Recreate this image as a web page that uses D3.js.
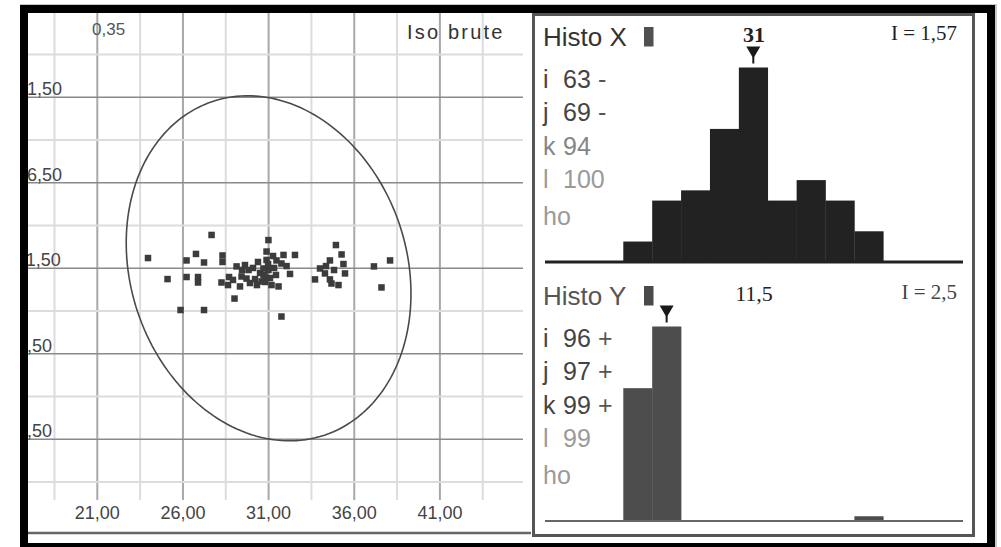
<!DOCTYPE html>
<html>
<head>
<meta charset="utf-8">
<script src="https://cdn.jsdelivr.net/npm/d3@7"></script>
<style>
body{margin:0;background:#fff;}
svg{display:block;}
text{font-family:"Liberation Sans",Arial,sans-serif;}
.serif{font-family:"Liberation Serif","Times New Roman",serif;}
</style>
</head>
<body>
<script>
//everything in a self-executing function to keep it local
(function(){

//scatter values (Iso brute)
var pointsX = [23.96,25.10,25.86,26.21,26.21,26.76,26.88,26.88,27.23,27.23,
	27.67,28.31,28.31,28.25,28.63,28.92,29.01,29.13,29.33,29.42,
	29.62,29.71,29.83,30.09,30.21,30.50,30.59,30.79,30.88,30.99,
	30.88,30.70,30.99,30.70,31.08,30.79,31.17,31.58,31.87,32.54,
	31.46,31.75,32.25,31.75,34.93,35.26,34.58,35.37,34.00,34.29,
	35.46,33.71,34.58,34.67,35.08,37.15,38.09,37.59,30.38,31.32,
	31.43,30.32,29.91,30.97,31.26,29.45,28.69,32.05,34.35,34.82];
var pointsY = [12.10,10.87,9.06,11.96,10.99,12.34,10.99,10.67,11.84,9.06,
	13.45,12.25,11.87,10.67,10.52,10.82,9.73,11.61,10.44,11.02,
	11.69,10.90,11.40,11.52,10.87,11.23,10.73,11.02,12.48,13.15,
	11.99,11.49,11.40,11.11,10.93,10.70,10.52,10.44,12.28,12.28,
	11.96,11.78,11.17,8.68,12.86,12.31,11.96,11.75,11.49,11.20,
	11.20,10.85,10.85,10.61,10.52,11.61,11.96,10.38,11.87,11.52,
	11.11,10.52,10.64,11.75,12.22,11.40,10.99,11.63,11.63,11.40];

//confidence ellipse: centre, semi axes (data units), angle (degrees)
var ellipseCenter = [31, 11.5];
var ellipseAxes = [8.06, 10.29];
var ellipseAngle = 18.5;

//axis ticks and labels
var xTicks = [21, 26, 31, 36, 41];
var xTickLabels = ["21,00", "26,00", "31,00", "36,00", "41,00"];
var yTicks = [21.5, 16.5, 11.5, 6.5, 1.5];
var yTickLabels = ["21,50", "16,50", "11,50", "6,50", "1,50"];
var cornerLabel = "0,35";
var plotTitle = "Iso brute";

//histograms
var histXCounts = [2, 6, 7, 13, 19, 6, 8, 6, 3];
var histYCounts = [28, 41, 0, 0, 0, 0, 0, 0, 1];
var statLetters = ["i", "j", "k", "l", "ho"];
var histXStats = ["63", "69", "94", "100", ""];
var histXSigns = ["-", "-", "", "", ""];
var histYStats = ["96", "97", "99", "99", ""];
var histYSigns = ["+", "+", "+", "", ""];
var histXMode = "31", histYMode = "11,5";
var histXIndex = "I = 1,57", histYIndex = "I = 2,5";

window.onload = draw();

function draw(){
	var width = 1001,
		height = 547;

	var svg = d3.select("body")
		.append("svg")
		.attr("width", width)
		.attr("height", height);

	svg.append("rect")
		.attr("width", width)
		.attr("height", height)
		.attr("fill", "#fff");

	//soft shadow round the frame
	svg.append("rect")
		.attr("x", 21).attr("y", 5)
		.attr("width", 975).attr("height", 548)
		.attr("fill", "none")
		.attr("stroke", "#c8c8c8")
		.attr("stroke-width", 2);

	setScatter(svg);

	//top histogram
	setHisto(svg, 0, histXCounts, {
		title: "Histo X", mode: histXMode, index: histXIndex,
		stats: histXStats, signs: histXSigns,
		bar: "#222", base: "#222", baseWidth: 3, titleColor: "#333", key: "#505050"
	});
	//bottom histogram
	setHisto(svg, 259, histYCounts, {
		title: "Histo Y", mode: histYMode, index: histYIndex,
		stats: histYStats, signs: histYSigns,
		bar: "#4d4d4d", base: "#666", baseWidth: 2, titleColor: "#555", key: "#4a4a4a"
	});

	//right panel border
	svg.append("rect")
		.attr("x", 533.5).attr("y", 14.5)
		.attr("width", 440).attr("height", 521)
		.attr("fill", "none")
		.attr("stroke", "#555")
		.attr("stroke-width", 3);

	//outer black frame
	svg.append("rect")
		.attr("x", 24).attr("y", 9)
		.attr("width", 967).attr("height", 538)
		.attr("fill", "none")
		.attr("stroke", "#000")
		.attr("stroke-width", 8);
};

//scatter panel with grid, points and ellipse
function setScatter(svg){
	var x = d3.scaleLinear()
		.domain([21, 41])
		.range([97.3, 439.9]);
	var y = d3.scaleLinear()
		.domain([1.5, 21.5])
		.range([439.3, 97.3]);

	svg.append("clipPath")
		.attr("id", "leftClip")
		.append("rect")
		.attr("x", 28).attr("y", 13)
		.attr("width", 503).attr("height", 530);

	var g = svg.append("g")
		.attr("clip-path", "url(#leftClip)");

	//grid every 2.5 units, darker every 5
	var gx = d3.range(18.5, 44, 2.5),
		gy = d3.range(-1, 25, 2.5);

	g.selectAll(".vgrid")
		.data(gx)
		.enter()
		.append("line")
		.attr("x1", function(d){ return x(d); })
		.attr("x2", function(d){ return x(d); })
		.attr("y1", 13).attr("y2", 500)
		.attr("stroke", function(d){ return xTicks.indexOf(d) >= 0 ? "#a8a8a8" : "#dcdcdc"; })
		.attr("stroke-width", 2);

	g.selectAll(".hgrid")
		.data(gy)
		.enter()
		.append("line")
		.attr("y1", function(d){ return y(d); })
		.attr("y2", function(d){ return y(d); })
		.attr("x1", 28).attr("x2", 523)
		.attr("stroke", function(d){ return yTicks.indexOf(d) >= 0 ? "#8a8a8a" : "#dcdcdc"; })
		.attr("stroke-width", function(d){ return yTicks.indexOf(d) >= 0 ? 1.6 : 2; });

	//tick labels
	g.selectAll(".xlab")
		.data(xTicks)
		.enter()
		.append("text")
		.attr("x", function(d){ return x(d); })
		.attr("y", 519)
		.attr("text-anchor", "middle")
		.attr("font-size", 18)
		.attr("fill", "#444")
		.text(function(d, i){ return xTickLabels[i]; });

	g.selectAll(".ylab")
		.data(yTicks)
		.enter()
		.append("text")
		.attr("x", 17)
		.attr("y", function(d){ return y(d) - 2.3; })
		.attr("font-size", 18)
		.attr("fill", "#444")
		.text(function(d, i){ return yTickLabels[i]; });

	g.append("text")
		.attr("x", 92).attr("y", 35)
		.attr("font-size", 17)
		.attr("fill", "#555")
		.text(cornerLabel);

	g.append("text")
		.attr("x", 407).attr("y", 39)
		.attr("font-size", 20)
		.attr("letter-spacing", 2.2)
		.attr("fill", "#333")
		.text(plotTitle);

	//points
	var size = 6.5;
	g.selectAll(".pt")
		.data(pointsX)
		.enter()
		.append("rect")
		.attr("x", function(d){ return x(d) - size / 2; })
		.attr("y", function(d, i){ return y(pointsY[i]) - size / 2; })
		.attr("width", size)
		.attr("height", size)
		.attr("fill", "#3c3c3c");

	//ellipse traced in data units
	var phi = ellipseAngle * Math.PI / 180;
	var ts = d3.range(0, 2 * Math.PI, Math.PI / 90);
	var line = d3.line()
		.x(function(t){
			return x(ellipseCenter[0] + ellipseAxes[0] * Math.cos(t) * Math.cos(phi) - ellipseAxes[1] * Math.sin(t) * Math.sin(phi));
		})
		.y(function(t){
			return y(ellipseCenter[1] + ellipseAxes[0] * Math.cos(t) * Math.sin(phi) + ellipseAxes[1] * Math.sin(t) * Math.cos(phi));
		})
		.curve(d3.curveLinearClosed);

	g.append("path")
		.datum(ts)
		.attr("d", line)
		.attr("fill", "none")
		.attr("stroke", "#4a4a4a")
		.attr("stroke-width", 1.6);

	//bottom rule of the left panel
	svg.append("line")
		.attr("x1", 28).attr("x2", 531)
		.attr("y1", 533).attr("y2", 533)
		.attr("stroke", "#666")
		.attr("stroke-width", 2.5);
};

//one histogram block, shifted down by dy
function setHisto(svg, dy, counts, opt){
	var g = svg.append("g")
		.attr("transform", "translate(0," + dy + ")");

	var base = 262;
	var hx = d3.scaleLinear()
		.domain([0, counts.length])
		.range([623.3, 883.3]);
	var hy = d3.scaleLinear()
		.domain([0, d3.max(counts)])
		.range([base, base - 194.5]);

	g.append("text")
		.attr("x", 543).attr("y", 46)
		.attr("font-size", 26)
		.attr("fill", opt.titleColor)
		.text(opt.title);

	g.append("rect")
		.attr("x", 644).attr("y", 27)
		.attr("width", 9.5).attr("height", 19.5)
		.attr("fill", opt.key);

	g.append("text")
		.attr("class", "serif")
		.attr("x", 754).attr("y", 41.5)
		.attr("text-anchor", "middle")
		.attr("font-size", 22)
		.attr("font-weight", dy == 0 ? "bold" : "normal")
		.attr("fill", "#222")
		.text(opt.mode);

	g.append("text")
		.attr("class", "serif")
		.attr("x", 957).attr("y", 40)
		.attr("text-anchor", "end")
		.attr("font-size", 21)
		.attr("fill", dy == 0 ? "#222" : "#444")
		.text(opt.index);

	//stat rows
	var rowY = [88, 121, 155, 188, 225];
	statLetters.forEach(function(l, i){
		var col = opt.signs[i] ? "#444" : (l == "k" ? "#858585" : "#9a9a9a");
		g.append("text")
			.attr("x", 543).attr("y", rowY[i])
			.attr("font-size", 25)
			.attr("fill", col)
			.text(l);
		g.append("text")
			.attr("x", 563).attr("y", rowY[i])
			.attr("font-size", 25)
			.attr("fill", col)
			.text(opt.stats[i]);
		g.append("text")
			.attr("x", 598).attr("y", rowY[i])
			.attr("font-size", 25)
			.attr("fill", "#555")
			.text(opt.signs[i]);
	});

	//bars
	g.selectAll(".bar")
		.data(counts)
		.enter()
		.append("rect")
		.attr("x", function(d, i){ return hx(i); })
		.attr("width", function(d, i){ return hx(i + 1) - hx(i) + 0.3; })
		.attr("y", function(d){ return hy(d); })
		.attr("height", function(d){ return base - hy(d); })
		.attr("fill", opt.bar);

	//baseline
	g.append("line")
		.attr("x1", 545).attr("x2", 963)
		.attr("y1", base).attr("y2", base)
		.attr("stroke", opt.base)
		.attr("stroke-width", opt.baseWidth);

	//marker above the mode bin
	var m = counts.indexOf(d3.max(counts)),
		cx = hx(m + 0.5),
		top = hy(counts[m]);
	g.append("path")
		.attr("d", "M" + (cx - 7) + "," + (top - 21) + "L" + (cx + 7) + "," + (top - 21) + "L" + cx + "," + (top - 9) + "Z")
		.attr("fill", "#1a1a1a");
	g.append("rect")
		.attr("x", cx - 1).attr("y", top - 11)
		.attr("width", 2).attr("height", 7)
		.attr("fill", "#1a1a1a");
};

})();
</script>
</body>
</html>
